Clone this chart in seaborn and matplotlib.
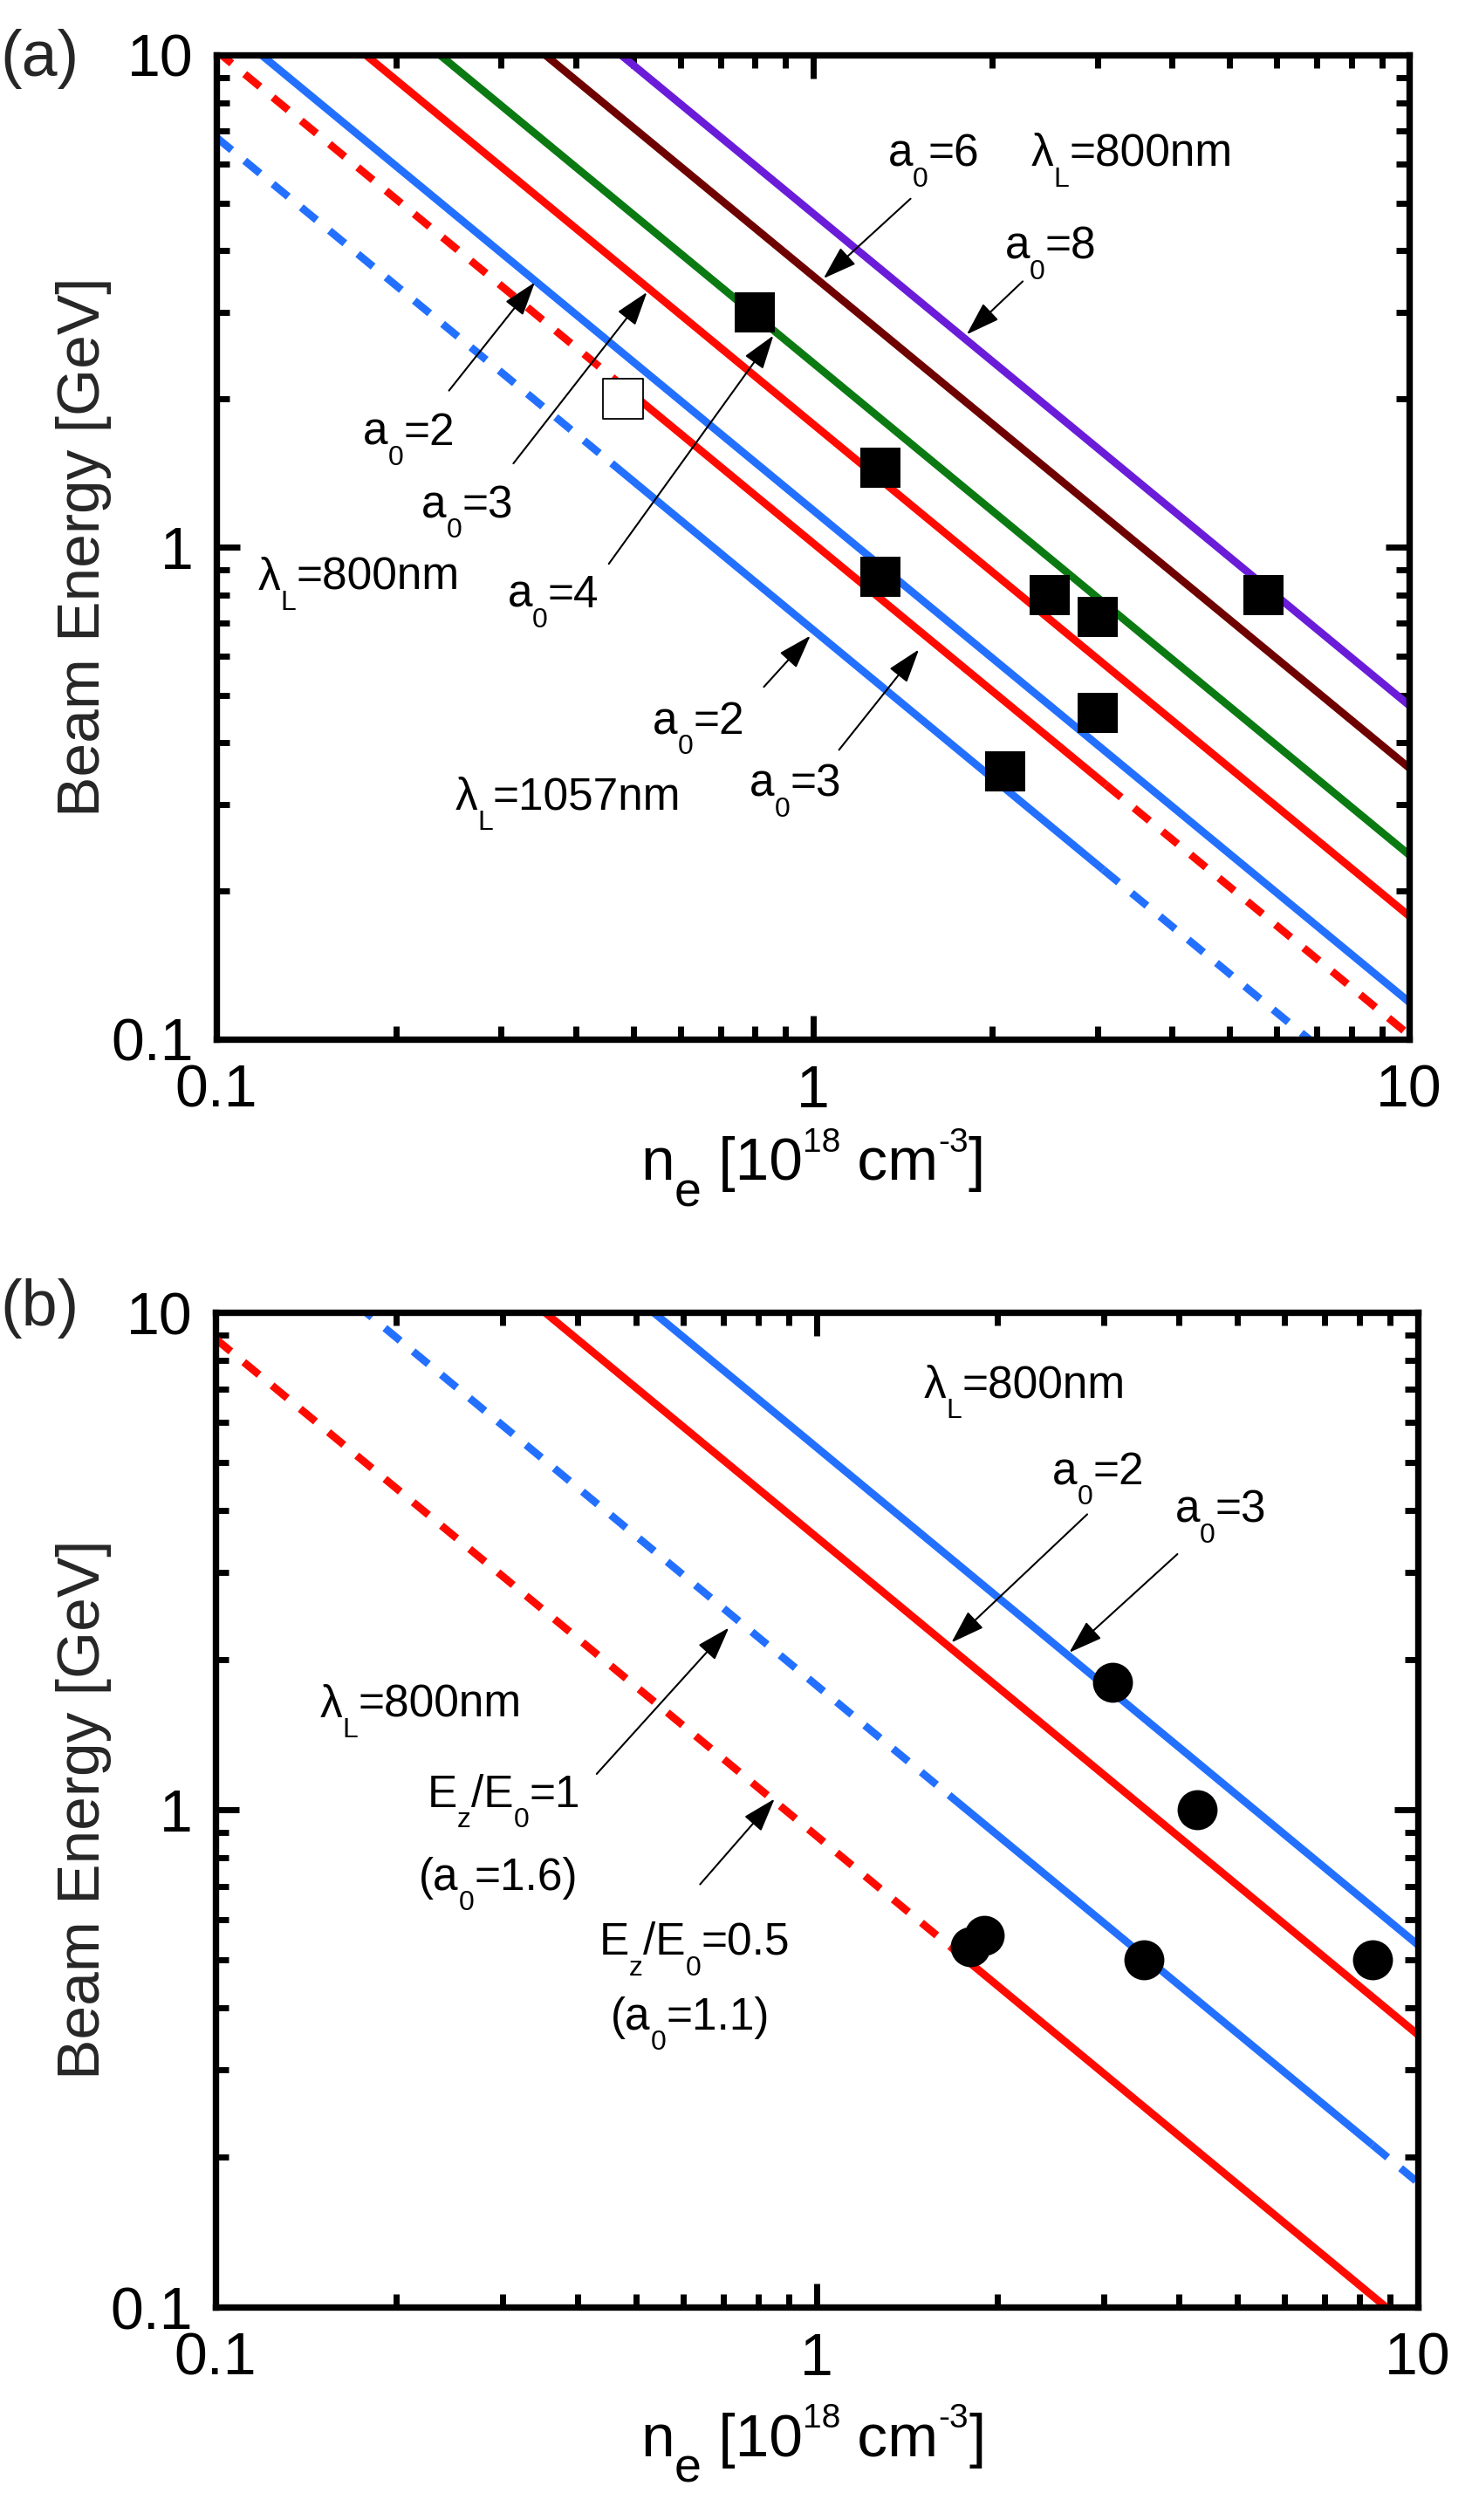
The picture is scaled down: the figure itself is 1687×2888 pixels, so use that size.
import re
import numpy as np
import pandas as pd
import matplotlib
matplotlib.use("Agg")
import matplotlib.pyplot as plt
import seaborn as sns
from matplotlib.ticker import FixedLocator, FixedFormatter, LogLocator, NullFormatter
from matplotlib.transforms import ScaledTranslation

# ---------------- data ----------------
# Panel (a): lambda_L = 800 nm solid lines (values at n = 0.1 and n = 10)
a_n_ends = [0.1, 10.0]
a_E_a0_8 = [47.7, 0.477]
a_E_a0_6 = [35.6, 0.356]
a_E_a0_4 = [23.7, 0.237]
a_E_a0_3 = [17.8, 0.178]
a_E_a0_2 = [11.9, 0.119]
# Panel (a): lambda_L = 1057 nm lines (dashed / solid / dashed pieces)
a_n_1057_a0_3 = [0.1, 0.47, 3.1, 10.0]
a_E_1057_a0_3 = [10.2, 2.17, 0.329, 0.102]
a_n_1057_a0_2 = [0.1, 0.46, 3.07, 10.0]
a_E_1057_a0_2 = [6.8, 1.48, 0.221, 0.068]
# Panel (a): experimental points
a_sq_n = [0.8, 1.3, 1.3, 2.5, 3.0, 3.0, 2.1, 5.7]
a_sq_E = [3.0, 1.45, 0.87, 0.80, 0.72, 0.46, 0.35, 0.80]
a_open_n = [0.48]
a_open_E = [2.0]

# Panel (b)
b_n_ends = [0.1, 10.0]
b_E_a0_3 = [53.5, 0.535]
b_E_a0_2 = [35.3, 0.353]
b_n_ez1 = [0.1, 1.66, 8.4, 10.0]
b_E_ez1 = [17.8, 1.07, 0.212, 0.178]
b_n_ez05 = [0.1, 1.67, 10.0]
b_E_ez05 = [8.85, 0.53, 0.0885]
b_ci_n = [3.1, 4.3, 1.9, 1.8, 3.5, 8.4]
b_ci_E = [1.8, 1.0, 0.56, 0.53, 0.50, 0.50]

tick_vals = [0.1, 1, 10]
tick_text = ["0.1", "1", "10"]
xlabel_text = "n_{e} [10^{18} cm^{-3}]"
ylabel_text = "Beam Energy [GeV]"

# ---------------- styling ----------------
sns.set_theme(style="ticks")
plt.rcParams["font.family"] = ["Liberation Sans", "DejaVu Sans"]
plt.rcParams["axes.unicode_minus"] = False

BLUE = "#2370FF"
RED = "#FF0A00"
GREEN = "#0B7A12"
MAROON = "#6E0000"
PURPLE = "#6A1CD9"
LW = 6.3
DASH = (0, (2.6, 2.2))

W, H = 1687, 2888
fig = plt.figure(figsize=(W / 100, H / 100), dpi=100)
axA = fig.add_axes([248 / W, 1 - 1191 / H, (1615 - 248) / W, 1128 / H])
axB = fig.add_axes([247 / W, 1 - 2644 / H, (1625 - 247) / W, 1140 / H])
renderer = fig.canvas.get_renderer()


def setup(ax):
    ax.set_xscale("log")
    ax.set_yscale("log")
    ax.set_xlim(0.1, 10)
    ax.set_ylim(0.1, 10)
    for axis in (ax.xaxis, ax.yaxis):
        axis.set_major_locator(FixedLocator(tick_vals))
        axis.set_major_formatter(FixedFormatter(tick_text))
        axis.set_minor_locator(LogLocator(base=10, subs=np.arange(2, 10)))
        axis.set_minor_formatter(NullFormatter())
    ax.tick_params(which="both", direction="in", top=True, right=True,
                   width=5, color="black", labelsize=49, labelcolor="black")
    ax.tick_params(which="major", length=19.5)
    ax.tick_params(which="minor", length=10.5)
    ax.tick_params(axis="x", which="major", pad=20)
    ax.tick_params(axis="y", which="major", pad=19)
    for sp in ax.spines.values():
        sp.set_linewidth(5.3)
        sp.set_color("black")
        sp.set_visible(True)
    ax.set_facecolor("white")


def draw(ax, n, E, color, styles):
    for i, st in enumerate(styles):
        seg = pd.DataFrame({"n": n[i:i + 2], "E": E[i:i + 2]})
        ls = "-" if st == "solid" else DASH
        sns.lineplot(data=seg, x="n", y="E", ax=ax, color=color, linewidth=LW,
                     linestyle=ls, estimator=None, sort=False, zorder=2)
        ax.lines[-1].set_dash_capstyle("butt")
        ax.lines[-1].set_solid_capstyle("butt")


def arrow(ax, tail, head):
    ax.annotate("", xy=head, xytext=tail, xycoords="axes fraction",
                textcoords="axes fraction",
                arrowprops=dict(arrowstyle="-|>,head_length=1.15,head_width=0.38",
                                mutation_scale=21, color="black", lw=1.5,
                                shrinkA=0, shrinkB=0), zorder=6)


def _width(ax, txt, fs):
    t1 = ax.text(0, 0, "|" + txt + "|", fontsize=fs, transform=ax.transAxes)
    t2 = ax.text(0, 0, "||", fontsize=fs, transform=ax.transAxes)
    w = (t1.get_window_extent(renderer).width - t2.get_window_extent(renderer).width)
    t1.remove()
    t2.remove()
    return w * 72 / fig.dpi


def rich(ax, x, y, s, size, ha="left", sub=(0.62, -0.45), sup=(0.56, 0.47)):
    """Text with '_{..}' subscripts and '^{..}' superscripts, at axes fraction (x, y)."""
    specs = []
    for p in re.split(r"([_^]\{[^}]*\})", s):
        if not p:
            continue
        if p.startswith("_{"):
            specs.append((p[2:-1], size * sub[0], size * sub[1]))
        elif p.startswith("^{"):
            specs.append((p[2:-1], size * sup[0], size * sup[1]))
        else:
            specs.append((p, size, 0.0))
    widths = [_width(ax, t, fs) for t, fs, _ in specs]
    dx = -sum(widths) / 2 if ha == "center" else 0.0
    for (txt, fs, dy), w in zip(specs, widths):
        tr = ax.transAxes + ScaledTranslation(dx / 72, dy / 72, fig.dpi_scale_trans)
        ax.text(x, y, txt, transform=tr, fontsize=fs, ha="left", va="baseline",
                color="black", zorder=7, clip_on=False)
        dx += w


# ---------------- panel (a) ----------------
setup(axA)
draw(axA, a_n_ends, a_E_a0_8, PURPLE, ["solid"])
draw(axA, a_n_ends, a_E_a0_6, MAROON, ["solid"])
draw(axA, a_n_ends, a_E_a0_4, GREEN, ["solid"])
draw(axA, a_n_ends, a_E_a0_3, RED, ["solid"])
draw(axA, a_n_ends, a_E_a0_2, BLUE, ["solid"])
draw(axA, a_n_1057_a0_3, a_E_1057_a0_3, RED, ["dash", "solid", "dash"])
draw(axA, a_n_1057_a0_2, a_E_1057_a0_2, BLUE, ["dash", "solid", "dash"])
sns.scatterplot(x=a_sq_n, y=a_sq_E, ax=axA, marker="s", s=1145, color="black",
                edgecolor="black", linewidth=0, zorder=5)
sns.scatterplot(x=a_open_n, y=a_open_E, ax=axA, marker="s", s=1100, color="white",
                edgecolor="black", linewidth=1.3, zorder=5)

TA = 37
rich(axA, 0.123, 0.604, "a_{0}=2", TA)
rich(axA, 0.172, 0.530, "a_{0}=3", TA)
rich(axA, 0.244, 0.439, "a_{0}=4", TA)
rich(axA, 0.035, 0.457, "λ_{L}=800nm", TA)
rich(axA, 0.200, 0.233, "λ_{L}=1057nm", TA)
rich(axA, 0.366, 0.310, "a_{0}=2", TA)
rich(axA, 0.447, 0.247, "a_{0}=3", TA)
rich(axA, 0.563, 0.887, "a_{0}=6", TA)
rich(axA, 0.683, 0.887, "λ_{L}=800nm", TA)
rich(axA, 0.661, 0.793, "a_{0}=8", TA)
arrow(axA, (0.195, 0.659), (0.267, 0.769))
arrow(axA, (0.249, 0.585), (0.361, 0.759))
arrow(axA, (0.329, 0.483), (0.467, 0.715))
arrow(axA, (0.459, 0.358), (0.498, 0.410))
arrow(axA, (0.522, 0.294), (0.589, 0.396))
arrow(axA, (0.582, 0.854), (0.509, 0.773))
arrow(axA, (0.676, 0.770), (0.629, 0.716))

axA.set_xlabel("")
rich(axA, 0.5, -0.143, xlabel_text, 50, ha="center", sub=(0.8, -0.43), sup=(0.56, 0.47))
axA.set_ylabel(ylabel_text, fontsize=50)
axA.yaxis.set_label_coords(-0.088, 0.5)

# ---------------- panel (b) ----------------
setup(axB)
draw(axB, b_n_ends, b_E_a0_3, BLUE, ["solid"])
draw(axB, b_n_ends, b_E_a0_2, RED, ["solid"])
draw(axB, b_n_ez1, b_E_ez1, BLUE, ["dash", "solid", "dash"])
draw(axB, b_n_ez05, b_E_ez05, RED, ["dash", "solid"])
sns.scatterplot(x=b_ci_n, y=b_ci_E, ax=axB, marker="o", s=1090, color="black",
                edgecolor="black", linewidth=0, zorder=5)

TB = 37
rich(axB, 0.087, 0.593, "λ_{L}=800nm", TB)
rich(axB, 0.176, 0.503, "E_{z}/E_{0}=1", TB)
rich(axB, 0.169, 0.419, "(a_{0}=1.6)", TB)
rich(axB, 0.319, 0.354, "E_{z}/E_{0}=0.5", TB)
rich(axB, 0.329, 0.279, "(a_{0}=1.1)", TB)
rich(axB, 0.589, 0.914, "λ_{L}=800nm", TB)
rich(axB, 0.696, 0.827, "a_{0}=2", TB)
rich(axB, 0.798, 0.789, "a_{0}=3", TB)
arrow(axB, (0.317, 0.536), (0.427, 0.683))
arrow(axB, (0.403, 0.425), (0.465, 0.511))
arrow(axB, (0.725, 0.797), (0.612, 0.668))
arrow(axB, (0.800, 0.757), (0.710, 0.658))

axB.set_xlabel("")
rich(axB, 0.497, -0.150, xlabel_text, 50, ha="center", sub=(0.8, -0.43), sup=(0.56, 0.47))
axB.set_ylabel(ylabel_text, fontsize=50)
axB.yaxis.set_label_coords(-0.086, 0.5)

fig.text(0.0, 1 - 67 / H, "(a)", fontsize=53, ha="left", va="center")
fig.text(0.0, 1 - 1500 / H, "(b)", fontsize=53, ha="left", va="center")

fig.savefig("out.png", dpi=100, facecolor="white")
